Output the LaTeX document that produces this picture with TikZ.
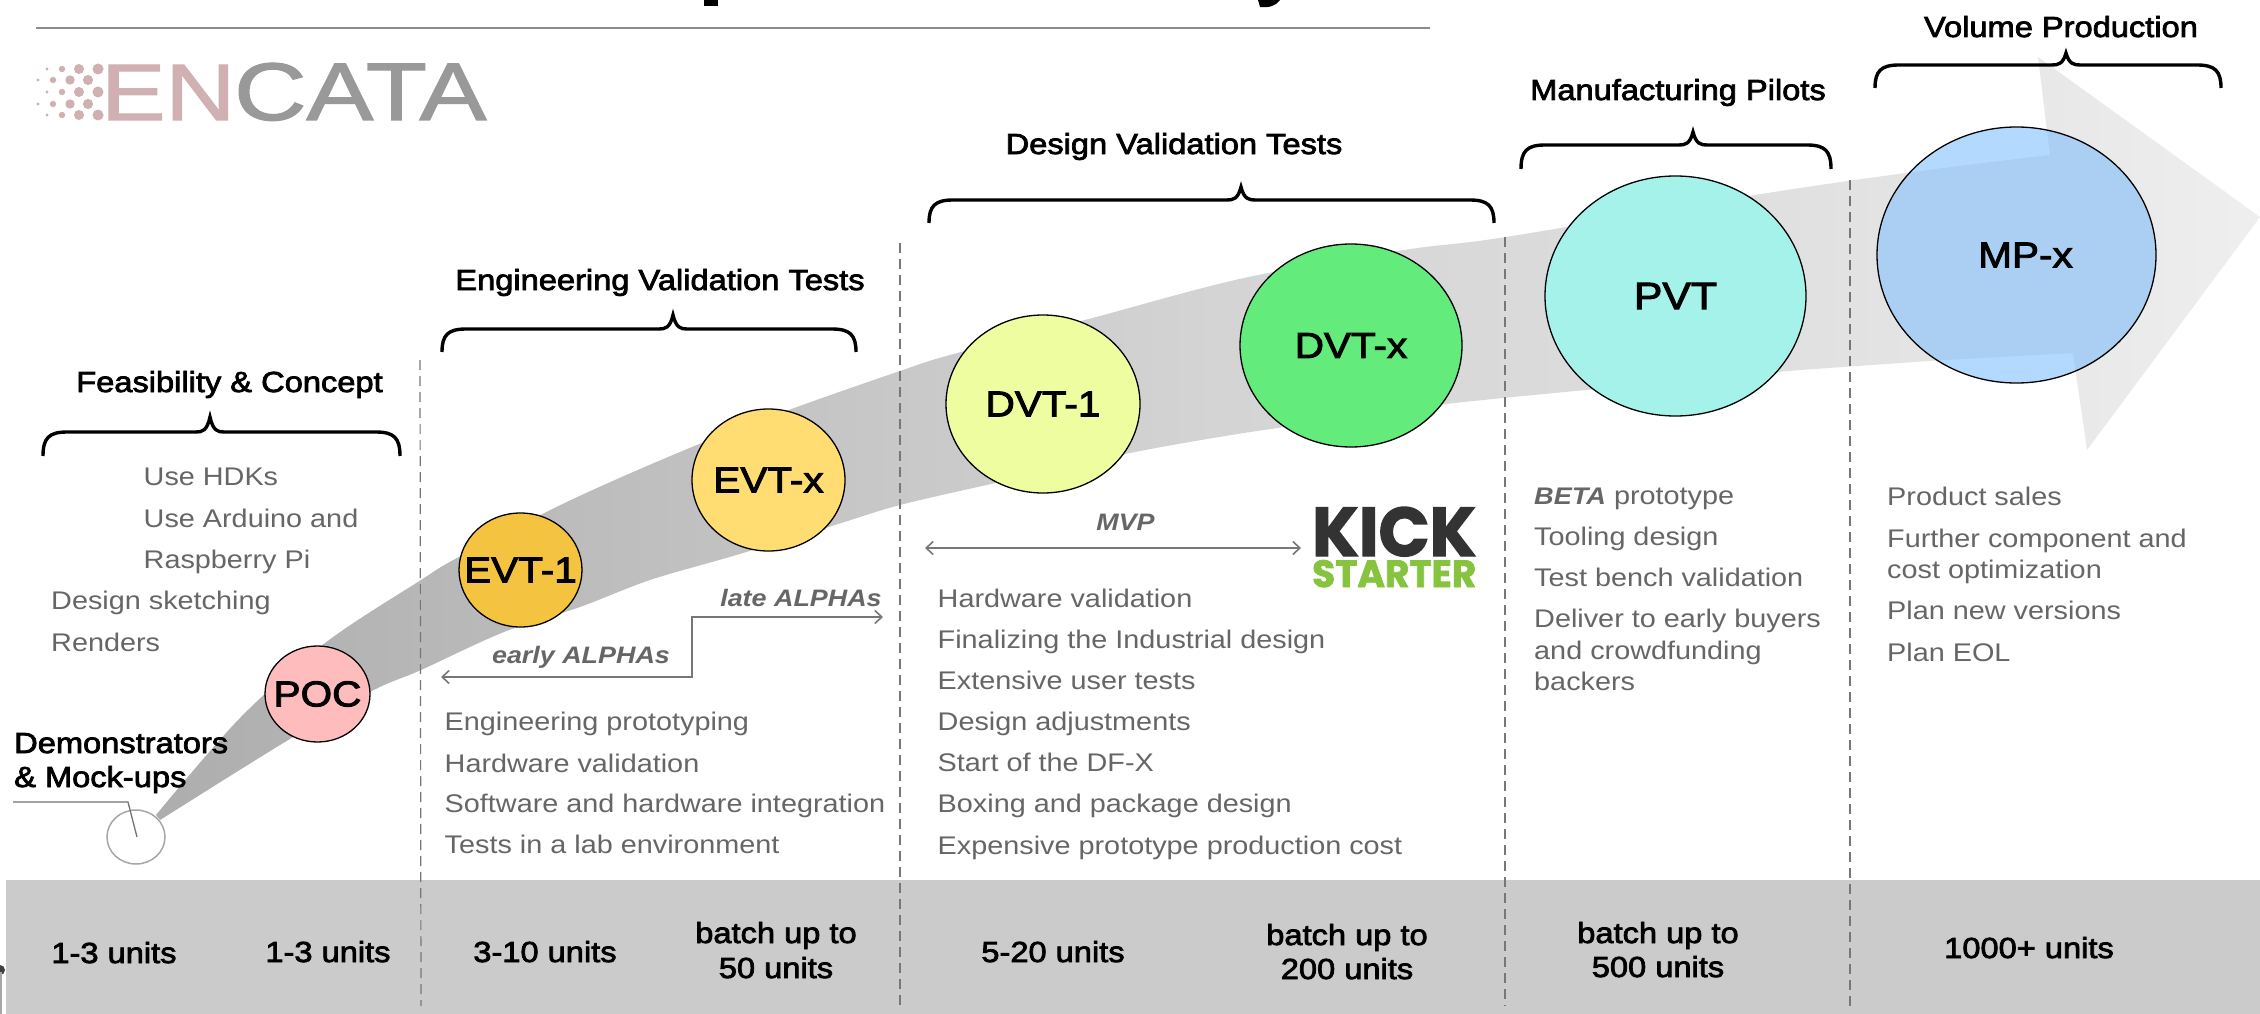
\documentclass[tikz,border=0pt]{standalone}
\usepackage{fontspec}
\usepackage{graphicx}
\usetikzlibrary{shapes.geometric,arrows.meta}
\setmainfont{Liberation Sans}[FakeStretch=1.13]
\newfontfamily\medf{Liberation Sans}[FakeBold=2.6,FakeStretch=1.125]
\newfontfamily\logof{Liberation Sans}[FakeBold=1.5]
\newfontfamily\kickf{Poppins}[FakeBold=2]
\definecolor{bodygray}{HTML}{666666}
\definecolor{dashgray}{HTML}{777777}
\definecolor{HTMLpoc}{HTML}{FFBCBC}
\definecolor{HTMLevta}{HTML}{F4C33F}
\definecolor{HTMLevtb}{HTML}{FFDD73}
\definecolor{HTMLdvta}{HTML}{EEFD9F}
\definecolor{HTMLdvtb}{HTML}{63EB7C}
\definecolor{HTMLpvt}{HTML}{A4F2EA}
\definecolor{HTMLmpa}{HTML}{B3D9FF}
\definecolor{HTMLmpb}{HTML}{AACFF2}
\definecolor{HTMLgreen}{HTML}{86C440}
\definecolor{logopink}{HTML}{D0B0B2}
\pgfdeclarehorizontalshading{bandshade}{100bp}{
 color(0bp)=(black!32); color(25bp)=(black!32); color(37bp)=(black!25);
 color(50bp)=(black!17); color(62bp)=(black!13); color(75bp)=(black!6.5); color(100bp)=(black!6.5)}
\def\bandpath{plot[smooth,tension=.55] coordinates{(156,815) (240,718) (325,643) (421,580) (459,557) (571,500) (692,447) (797,407) (900,371) (950,355) (1085,320) (1244,278) (1404,250) (1506,237) (1755,195) (1913,172) (2050,155)}
 -- (2038,57) -- (2260,217) -- (2087,450) -- (2073,353) -- (1943,360) -- (1800,370)
 -- plot[smooth,tension=.55] coordinates{(1800,370) (1660,383) (1455,403) (1350,418) (1244,433) (1130,453) (1000,482) (900,505) (835,525) (733,556) (650,580) (580,607) (504,632) (421,670) (370,692) (280,745) (160,820)} -- cycle}
\newcommand{\Brk}[6]{\draw[bracestyle] (#1,#5) .. controls (#1,#4+6) and (#1+6,#4) .. (#1+24,#4) -- (#2-14,#4) .. controls (#2-8,#4) and (#2-3,#4-1) .. (#2,#6) .. controls (#2+3,#4-1) and (#2+8,#4) .. (#2+14,#4) -- (#3-24,#4) .. controls (#3-6,#4) and (#3,#4+6) .. (#3,#5);}
\newcommand{\lbl}[1]{\makebox[0pt]{#1}}
\tikzset{
 x=1pt,y=-1pt,
 bracestyle/.style={line width=3.4pt,black},
 stage/.style={ellipse,draw=black,line width=1.3pt,inner sep=0,font=\medf\fontsize{36}{36}\selectfont,text=black},
 heading/.style={inner sep=0,font=\medf\fontsize{29}{29}\selectfont,text=black},
 units/.style={inner sep=0,anchor=base,font=\medf\fontsize{29}{29}\selectfont,text=black},
 body/.style={inner sep=0,anchor=base west,font=\fontsize{25.5}{25.5}\selectfont,text=bodygray},
 tagtext/.style={inner sep=0,anchor=base,font=\bfseries\itshape\fontsize{23.8}{23.8}\selectfont,text=bodygray},
 divider/.style={dashgray,line width=1.2pt,dash pattern=on 10pt off 6pt},
 flow/.style={draw=dashgray,line width=1.6pt,{Straight Barb[length=7pt,width=13pt]}-{Straight Barb[length=7pt,width=13pt]}},
}
\begin{document}
\begin{tikzpicture}
\useasboundingbox (0,0) rectangle (2260,1014);
\fill[white] (0,0) rectangle (2260,1014);
% clipped title fragments
\fill[black] (704,0) rectangle (718,6);
\fill[black] (1258,0) -- (1280,0) .. controls (1276,6) and (1268,8) .. (1260,7) -- cycle;
\coordinate (ruleA) at (36,28); \coordinate (ruleB) at (1430,28);
\draw[line width=2pt,black!45] (ruleA) -- (ruleB);
% logo
\foreach \cx/\r in {47/1.6,62/3.2,79/5,98/5.5}{
  \foreach \cy in {69,92,115}{\fill[logopink] (\cx,\cy) circle[radius=\r];}
}
\foreach \cx/\r in {38/1.6,53/3.2,70/4.7,88/5.1}{
  \foreach \cy in {80,104}{\fill[logopink] (\cx,\cy) circle[radius=\r];}
}
\node[inner sep=0,anchor=base west,text=logopink] (logoen) at (101,120) {\resizebox{134pt}{55pt}{\logof EN}};
\node[inner sep=0,anchor=base west,text=black!40] (logocata) at (234,120) {\resizebox{252pt}{57pt}{\logof CATA}};
% band
\shade[shading=bandshade] \bandpath;
% bottom strip
\fill[black!20.5] (6,880) rectangle (2260,1014);
\fill[black!75] (0,970) circle[radius=5];
\draw[black!35,line width=1.5pt] (1,972) -- (1,1014);
% dividers
\coordinate (d1a) at (420,360); \coordinate (d1b) at (421,1006);
\coordinate (d2a) at (900,243); \coordinate (d2b) at (900,1006);
\coordinate (d3a) at (1505,237); \coordinate (d3b) at (1505,1006);
\coordinate (d4a) at (1850,180); \coordinate (d4b) at (1850,1006);
\draw[divider] (d1a) -- (d1b);
\draw[divider] (d2a) -- (d2b);
\draw[divider] (d3a) -- (d3b);
\draw[divider] (d4a) -- (d4b);
% braces
\Brk{43}{210}{400}{432}{456}{417}
\Brk{442}{673}{856}{329}{352}{315}
\Brk{929}{1241}{1494}{200}{223}{187}
\Brk{1521}{1693}{1831}{145}{169}{132}
\Brk{1875}{2066}{2221}{65}{88}{53}
% headings
\node[heading,anchor=base] (h1) at (229.5,392) {Feasibility \& Concept};
\node[heading,anchor=base] (h2) at (660,290) {Engineering Validation Tests};
\node[heading,anchor=base] (h3) at (1174,154) {Design Validation Tests};
\node[heading,anchor=base] (h4) at (1678,100) {Manufacturing Pilots};
\node[heading,anchor=base] (h5) at (2061,37) {Volume Production};
% stages
\node[ellipse,draw=black!35,line width=1.5pt,minimum width=58pt,minimum height=54pt,inner sep=0] (demo) at (136,837) {};
\node[stage,fill=HTMLpoc,minimum width=105pt,minimum height=96pt] (poc) at (317.5,694) {\lbl{POC}};
\node[stage,fill=HTMLevta,minimum width=123pt,minimum height=114pt] (evt1) at (520.5,570) {\lbl{EVT-1}};
\node[stage,fill=HTMLevtb,minimum width=153pt,minimum height=142pt] (evtx) at (768.5,480) {\lbl{EVT-x}};
\node[stage,fill=HTMLdvta,minimum width=194pt,minimum height=178pt] (dvt1) at (1043,404) {\lbl{DVT-1}};
\node[stage,fill=HTMLdvtb,minimum width=222pt,minimum height=203pt] (dvtx) at (1351,345.5) {\lbl{DVT-x}};
\node[stage,fill=HTMLpvt,minimum width=261pt,minimum height=240pt] (pvt) at (1675.5,296) {\lbl{\fontsize{38}{38}\selectfont PVT}};
\node[ellipse,inner sep=0,fill=HTMLmpa,minimum width=279pt,minimum height=256pt] (mpbase) at (2016.5,255) {};
\begin{scope}
\clip (2016.5,255) ellipse[x radius=139.5,y radius=128];
\fill[HTMLmpb] \bandpath;
\end{scope}
\node[stage,minimum width=279pt,minimum height=256pt] (mp) at (2016.5,255) {\lbl{\hspace{18pt}MP-x}};
% demonstrators
\node[units,anchor=base west] (demotext) at (14,753) {Demonstrators};
\node[units,anchor=base west] (demotextb) at (14,787) {\& Mock-ups};
\coordinate (leadA) at (13,802); \coordinate (leadB) at (128,802); \coordinate (leadC) at (137,837);
\draw[black!55,line width=1.3pt] (leadA) -- (leadB) -- (leadC);
% arrows
\coordinate (ea) at (441,677); \coordinate (eb) at (692,677); \coordinate (ec) at (692,617); \coordinate (ed) at (883,617);
\draw[flow] (ea) -- (eb) -- (ec) -- (ed);
\coordinate (ma) at (925,548); \coordinate (mb) at (1301,548);
\draw[flow] (ma) -- (mb);
\node[tagtext] (late) at (801,606) {late ALPHAs};
\node[tagtext] (early) at (581,663) {early ALPHAs};
\node[tagtext] (mvp) at (1125.5,530) {MVP};
% kickstarter
\node[inner sep=0,anchor=base west,text=black!80] (kick) at (1312,556) {\resizebox{164pt}{49pt}{\kickf\bfseries KICK}};
\node[inner sep=0,anchor=base west,text=HTMLgreen] (starter) at (1312,587) {\resizebox{164pt}{27pt}{\kickf\bfseries STARTER}};
% body lists
\node[body] (a1) at (143.5,485) {Use HDKs};
\node[body] (a2) at (143.5,527) {Use Arduino and};
\node[body] (a3) at (143.5,568) {Raspberry Pi};
\node[body] (a4) at (51,609) {Design sketching};
\node[body] (a5) at (51,651) {Renders};
\node[body] (b1) at (444.5,730) {Engineering prototyping};
\node[body] (b2) at (444.5,772) {Hardware validation};
\node[body] (b3) at (444.5,812) {Software and hardware integration};
\node[body] (b4) at (444.5,853) {Tests in a lab environment};
\node[body] (c1) at (937.5,607) {Hardware validation};
\node[body] (c2) at (937.5,648) {Finalizing the Industrial design};
\node[body] (c3) at (937.5,689) {Extensive user tests};
\node[body] (c4) at (937.5,730) {Design adjustments};
\node[body] (c5) at (937.5,771) {Start of the DF-X};
\node[body] (c6) at (937.5,812) {Boxing and package design};
\node[body] (c7) at (937.5,854) {Expensive prototype production cost};
\node[body] (d1) at (1534,504) {{\fontsize{24}{24}\selectfont\textbf{\textit{BETA}}} prototype};
\node[body] (d2) at (1534,545) {Tooling design};
\node[body] (d3) at (1534,586) {Test bench validation};
\node[body] (d4) at (1534,627) {Deliver to early buyers};
\node[body] (d5) at (1534,659) {and crowdfunding};
\node[body] (d6) at (1534,690) {backers};
\node[body] (e1) at (1887,505) {Product sales};
\node[body] (e2) at (1887,547) {Further component and};
\node[body] (e3) at (1887,578) {cost optimization};
\node[body] (e4) at (1887,619) {Plan new versions};
\node[body] (e5) at (1887,661) {Plan EOL};
% units
\node[units] (u1) at (114,963) {1-3 units};
\node[units] (u2) at (328,962) {1-3 units};
\node[units] (u3) at (545,962) {3-10 units};
\node[units] (u4) at (776,943) {batch up to};
\node[units] (u4b) at (776,978) {50 units};
\node[units] (u5) at (1053,962) {5-20 units};
\node[units] (u6) at (1347,945) {batch up to};
\node[units] (u6b) at (1347,979) {200 units};
\node[units] (u7) at (1658,943) {batch up to};
\node[units] (u7b) at (1658,977) {500 units};
\node[units] (u8) at (2029,958) {1000+ units};
\end{tikzpicture}
\end{document}
